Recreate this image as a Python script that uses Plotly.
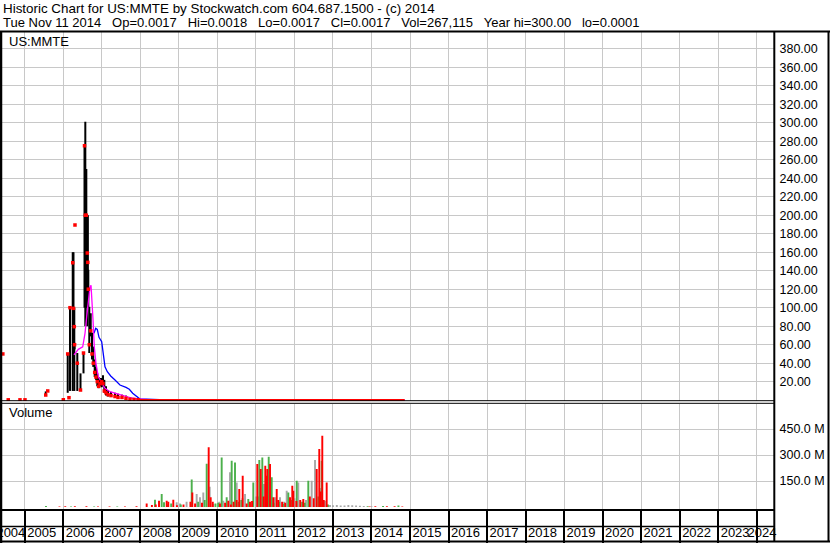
import plotly.graph_objects as go

W, H = 830, 543

# ---------------- data ----------------
header_line1 = "Historic Chart for US:MMTE by Stockwatch.com 604.687.1500 - (c) 2014"
header_line2 = ("Tue Nov 11 2014   Op=0.0017   Hi=0.0018   Lo=0.0017   Cl=0.0017   "
                "Vol=267,115   Year hi=300.00   lo=0.0001")
symbol_label = "US:MMTE"
volume_label = "Volume"

# price bars (decimal year)
bar_dates = [2004.43, 2004.57, 2004.875, 2005.005, 2005.543, 2005.595, 2006.0, 2006.114, 2006.147,
             2006.173, 2006.244, 2006.264, 2006.285, 2006.292, 2006.303, 2006.363, 2006.446, 2006.524,
             2006.550, 2006.571, 2006.597, 2006.623, 2006.636, 2006.649, 2006.674, 2006.711, 2006.745,
             2006.778, 2006.815, 2006.848, 2006.882, 2006.918, 2006.952, 2006.996, 2007.030, 2007.064,
             2007.108, 2007.160, 2007.238, 2007.342, 2007.420, 2007.523, 2007.627, 2007.731, 2007.835,
             2007.939]
bar_high = [50, 0.4, 0.4, 0.4, 9.5, 10, 0.5, 51, 3, 100, 160, 160, 100, 62, 190, 51, 29, 51,
            276, 301, 250, 200, 200, 141, 101, 94, 73, 58, 44, 36, 29, 25, 24, 24, 27, 22,
            15, 11, 9, 8, 7, 6, 5, 3, 2, 1.2]
bar_low = [50, 0.4, 0.4, 0.4, 5, 10, 0.5, 8, 2, 10, 10, 40, 10, 55, 189, 10, 10, 29,
           100, 80, 100, 80, 100, 101, 51, 69, 44, 36, 25, 22, 15, 13, 15, 14, 15, 8,
           5, 4, 3.5, 3.5, 2, 2, 1.5, 0.8, 0.5, 0.3]
bar_close = [50, 0.4, 0.4, 0.4, 5.6, 10, 0.5, 50, 2.7, 100, 148.6, 99.3, 79.5, 60, 189.4, 40, 11, 51,
             275, 200, 200, 159, 149, 120, 60, 75, 50, 40, 30, 25, 20, 15, 18, 20, 18, 10,
             8, 6, 5, 4, 3, 3, 2, 1, 0.8, 0.5]

tail_dates = [2008.0, 2008.5, 2009.0, 2009.5, 2010.0, 2010.5, 2011.0, 2011.5, 2012.0, 2012.5,
              2013.0, 2013.5, 2014.0, 2014.5, 2014.86]
tail_close = [0.3, 0.2, 0.1, 0.08, 0.05, 0.03, 0.02, 0.01, 0.008, 0.006,
              0.004, 0.003, 0.002, 0.002, 0.0017]

ma_short_dates = [2006.277, 2006.389, 2006.503, 2006.563, 2006.607, 2006.649, 2006.693, 2006.719,
                  2006.745, 2006.771, 2006.804, 2006.848, 2006.908, 2006.996, 2007.082, 2007.212,
                  2007.386, 2007.557, 2007.731, 2007.905, 2008.3, 2009.0, 2010.0, 2011.0, 2012.0,
                  2013.0, 2014.0, 2014.86]
ma_short = [49, 55, 57.8, 72.3, 90.3, 108.3, 122.7, 124.2, 108.3, 86.7, 57.8, 39.9, 25.4, 18.3,
            12.9, 9.2, 6.7, 4.9, 2.7, 1.3, 0.4, 0.15, 0.06, 0.03, 0.01, 0.005, 0.003, 0.002]

ma_long_dates = [2006.796, 2006.841, 2006.882, 2006.926, 2006.996, 2007.038, 2007.082, 2007.142,
                 2007.230, 2007.342, 2007.471, 2007.627, 2007.713, 2007.801, 2007.905, 2007.991,
                 2008.5, 2009.0, 2010.0, 2011.0, 2012.0, 2013.0, 2014.0, 2014.86]
ma_long = [72.3, 77.7, 76.6, 68, 63.2, 47, 36.2, 30.8, 26.2, 21.8, 16.4, 13.9, 11.8, 7.5, 3.8, 1.3,
           0.6, 0.3, 0.1, 0.05, 0.02, 0.01, 0.005, 0.003]

# volume in millions
vol_down_dates = [2005.9, 2006.05, 2006.3, 2006.6, 2006.9, 2007.2, 2007.6, 2007.9, 2008.164, 2008.30,
                  2008.40, 2008.484, 2008.684, 2008.725, 2008.855, 2008.95, 2009.12, 2009.30,
                  2009.349, 2009.42, 2009.60, 2009.774, 2009.826, 2009.88, 2010.067, 2010.20,
                  2010.283, 2010.35, 2010.42, 2010.50, 2010.568, 2010.657, 2010.76, 2010.846,
                  2010.90, 2011.036, 2011.124, 2011.20, 2011.243, 2011.265, 2011.295, 2011.366,
                  2011.451, 2011.540, 2011.58, 2011.68, 2011.76, 2011.885, 2011.944, 2011.971,
                  2012.05, 2012.15, 2012.230, 2012.40, 2012.50, 2012.578, 2012.645, 2012.68,
                  2012.723, 2012.76, 2012.837, 2013.95, 2014.1, 2014.4, 2014.6, 2014.8]
vol_down = [3, 4, 5, 4, 3, 3, 3, 4, 20, 12,
            15, 36, 36, 30, 42, 10, 15, 30,
            84, 20, 25, 344, 56, 30, 20, 25,
            36, 15, 30, 40, 104, 181, 20, 30,
            35, 248, 219, 60, 238, 180, 219, 248,
            56, 104, 40, 30, 25, 56, 123, 94,
            35, 40, 46, 60, 50, 219, 335, 90,
            411, 40, 142, 3, 4, 5, 4, 3]

vol_up_dates = [2005.55, 2006.2, 2006.8, 2007.4, 2008.38, 2008.554, 2008.614, 2008.70, 2008.80,
                2009.05, 2009.333, 2009.50, 2009.67, 2009.722, 2009.95, 2010.02, 2010.111,
                2010.241, 2010.371, 2010.457, 2010.55, 2010.62, 2010.802, 2010.932, 2011.05,
                2011.088, 2011.166, 2011.27, 2011.332, 2011.410, 2011.46, 2011.60, 2011.711,
                2011.841, 2011.92, 2012.059, 2012.20, 2012.27, 2012.360, 2012.62, 2012.708,
                2012.87, 2013.9, 2014.3, 2014.7]
vol_up = [6, 3, 3, 3, 42, 75, 27, 15, 20,
          15, 158, 30, 40, 250, 20, 25, 286,
          56, 267, 257, 30, 40, 46, 142, 60,
          271, 286, 80, 290, 171, 25, 30, 17,
          84, 40, 152, 30, 25, 152, 60, 267,
          15, 4, 6, 8]

vol_flat_dates = [2008.943, 2009.029, 2009.20, 2009.462, 2009.548, 2009.634, 2009.80, 2009.894,
                  2010.05, 2010.153, 2010.327, 2010.501, 2010.65, 2010.717, 2011.00, 2011.210,
                  2011.35, 2011.495, 2011.625, 2011.73, 2011.799, 2012.00, 2012.100, 2012.30,
                  2012.448, 2012.534, 2012.66, 2012.793, 2012.923, 2013.0, 2013.1, 2013.2,
                  2013.3, 2013.4, 2013.5, 2013.6, 2013.7, 2013.8, 2014.0]
vol_flat = [27, 20, 30, 75, 56, 84, 117, 17,
            30, 36, 200, 142, 50, 75, 60, 133,
            45, 56, 56, 30, 94, 50, 142, 40,
            152, 271, 110, 36, 12, 10, 12, 8,
            9, 12, 10, 8, 7, 6, 5]

year_labels = list(range(2004, 2025))
price_ticks = list(range(20, 400, 20))
volume_ticks = [150, 300, 450]

# ---------------- layout helpers ----------------
FONT = "Liberation Sans, Arial, sans-serif"
GRID = "#C8C8C8"
RED, GREEN, GRAY = "#FF0000", "#4CB04C", "#A8A8A8"


def px(x):
    return x / W


def py(y):
    return 1 - y / H


X_LEFT, X_RIGHT = 2.0, 773.5
YEAR0_PX, PX_PER_YEAR = 24.8, 38.52  # 2005 boundary
x_min = 2005 + (X_LEFT - YEAR0_PX) / PX_PER_YEAR
x_max = 2005 + (X_RIGHT - YEAR0_PX) / PX_PER_YEAR
x_dom = [px(X_LEFT), px(X_RIGHT)]

# price panel: 0 at 400.2 px, 0.925 px/unit
P_TOP, P_BOT, P_ZERO, P_SCALE = 32.0, 401.0, 400.2, 0.925
price_range = [-(P_BOT - P_ZERO) / P_SCALE, (P_ZERO - P_TOP) / P_SCALE]
# volume panel: 0 at 507 px, 26 px per 150M
V_TOP, V_BOT, V_ZERO, V_SCALE = 403.5, 510.0, 507.0, 26 / 150
vol_range = [-(V_BOT - V_ZERO) / V_SCALE, (V_ZERO - V_TOP) / V_SCALE]

fig = go.Figure()

# high-low lines
hl_x, hl_y = [], []
for d, h, l in zip(bar_dates, bar_high, bar_low):
    hl_x += [d, d, None]
    hl_y += [l, h, None]
fig.add_trace(go.Scatter(x=hl_x, y=hl_y, mode="lines", line=dict(color="black", width=2),
                         xaxis="x", yaxis="y", hoverinfo="skip"))
fig.add_trace(go.Scatter(x=ma_long_dates, y=ma_long, mode="lines",
                         line=dict(color="#0000FF", width=1.3), xaxis="x", yaxis="y"))
fig.add_trace(go.Scatter(x=ma_short_dates, y=ma_short, mode="lines",
                         line=dict(color="#FF00FF", width=1.3), xaxis="x", yaxis="y"))
fig.add_trace(go.Scatter(x=[bar_dates[-1]] + tail_dates, y=[bar_close[-1]] + tail_close,
                         mode="lines", line=dict(color=RED, width=2.2), xaxis="x", yaxis="y"))
fig.add_trace(go.Scatter(x=bar_dates, y=bar_close, mode="markers",
                         marker=dict(color=RED, size=3.5, symbol="square", line=dict(width=0)),
                         xaxis="x", yaxis="y"))

# volume
for dates, vals, col in [(vol_flat_dates, vol_flat, GRAY), (vol_up_dates, vol_up, GREEN),
                         (vol_down_dates, vol_down, RED)]:
    fig.add_trace(go.Bar(x=dates, y=vals, width=0.05, marker=dict(color=col, line=dict(width=0)),
                         xaxis="x2", yaxis="y2"))

# empty trace for the date rows
fig.add_trace(go.Scatter(x=[None], y=[None], xaxis="x3", yaxis="y3", showlegend=False))

label_pos = [min(max(y + 0.44, x_min + 0.23), x_max - 0.3) for y in year_labels]
int_years = [y for y in year_labels if x_min < y < x_max]

common_x = dict(domain=x_dom, range=[x_min, x_max], showline=False, zeroline=False, ticks="",
                fixedrange=True, automargin=False)

fig.update_layout(
    width=W, height=H, margin=dict(l=0, r=0, t=0, b=0, autoexpand=False),
    paper_bgcolor="white", plot_bgcolor="white", showlegend=False, barmode="overlay",
    font=dict(family=FONT, size=13, color="black"),
    xaxis=dict(**common_x, anchor="y", tickvals=int_years, showticklabels=False,
               showgrid=True, gridcolor=GRID, gridwidth=1),
    xaxis2=dict(**common_x, anchor="y2", tickvals=int_years, showticklabels=False,
                showgrid=True, gridcolor=GRID, gridwidth=1),
    xaxis3=dict(**common_x, anchor="y3", tickvals=label_pos, ticktext=[str(y) for y in year_labels],
                showgrid=False, tickangle=0, ticklabelposition="inside", ticklabeloverflow="allow",
                tickfont=dict(family=FONT, size=13, color="black"),
                minor=dict(tickvals=int_years, showgrid=True, gridcolor="black", gridwidth=2, ticks="")),
    yaxis=dict(domain=[py(P_BOT), py(P_TOP)], range=price_range, anchor="x", side="right",
               tickvals=price_ticks, ticktext=[f"{v:.2f}" for v in price_ticks],
               showgrid=True, gridcolor=GRID, gridwidth=1, zeroline=False, showline=False,
               ticks="", ticklabelstandoff=5, automargin=False, fixedrange=True,
               tickfont=dict(family=FONT, size=12.5, color="black")),
    yaxis2=dict(domain=[py(V_BOT), py(V_TOP)], range=vol_range, anchor="x2", side="right",
                tickvals=volume_ticks, ticktext=[f"{v:.1f} M" for v in volume_ticks],
                showgrid=True, gridcolor=GRID, gridwidth=1, zeroline=False, showline=False,
                ticks="", ticklabelstandoff=5, automargin=False, fixedrange=True,
                tickfont=dict(family=FONT, size=12.5, color="black")),
    yaxis3=dict(domain=[0.0, py(510.0)], range=[0, 1], anchor="x3", showgrid=False,
                zeroline=False, showticklabels=False, ticks="", automargin=False, fixedrange=True),
)


def hline(y, x0, x1, w):
    return dict(type="line", xref="paper", yref="paper", x0=px(x0), x1=px(x1), y0=py(y), y1=py(y),
                line=dict(color="black", width=w))


def vline(x, y0, y1, w):
    return dict(type="line", xref="paper", yref="paper", x0=px(x), x1=px(x), y0=py(y0), y1=py(y1),
                line=dict(color="black", width=w))


fig.update_layout(shapes=[
    hline(31.5, 0, W, 2),
    vline(1.0, 31, H, 2.5),
    vline(774.3, 31, 541.5, 2),
    vline(828.5, 31, 541.5, 2),
    hline(541.5, 0, W, 2),
    hline(400.7, 0, 774.3, 1),
    hline(403.3, 0, 774.3, 1),
    hline(510.0, 0, 774.3, 2),
    hline(526.5, 0, 774.3, 1.5),
])


def label(text, x, y, size=13):
    return dict(text=text, xref="paper", yref="paper", x=px(x), y=py(y), xanchor="left",
                yanchor="middle", showarrow=False, font=dict(family=FONT, size=size, color="black"),
                borderpad=0)


fig.update_layout(annotations=[
    label(header_line1, 2, 9, 13.4),
    label(header_line2.replace(" ", "\u00a0"), 2, 22),
    label(symbol_label, 8, 41.5),
    label(volume_label, 8, 413),
])

fig.write_html("out.html", config={"displayModeBar": False, "staticPlot": True},
               post_script="document.body.style.margin='0';document.body.style.overflow='hidden';")
